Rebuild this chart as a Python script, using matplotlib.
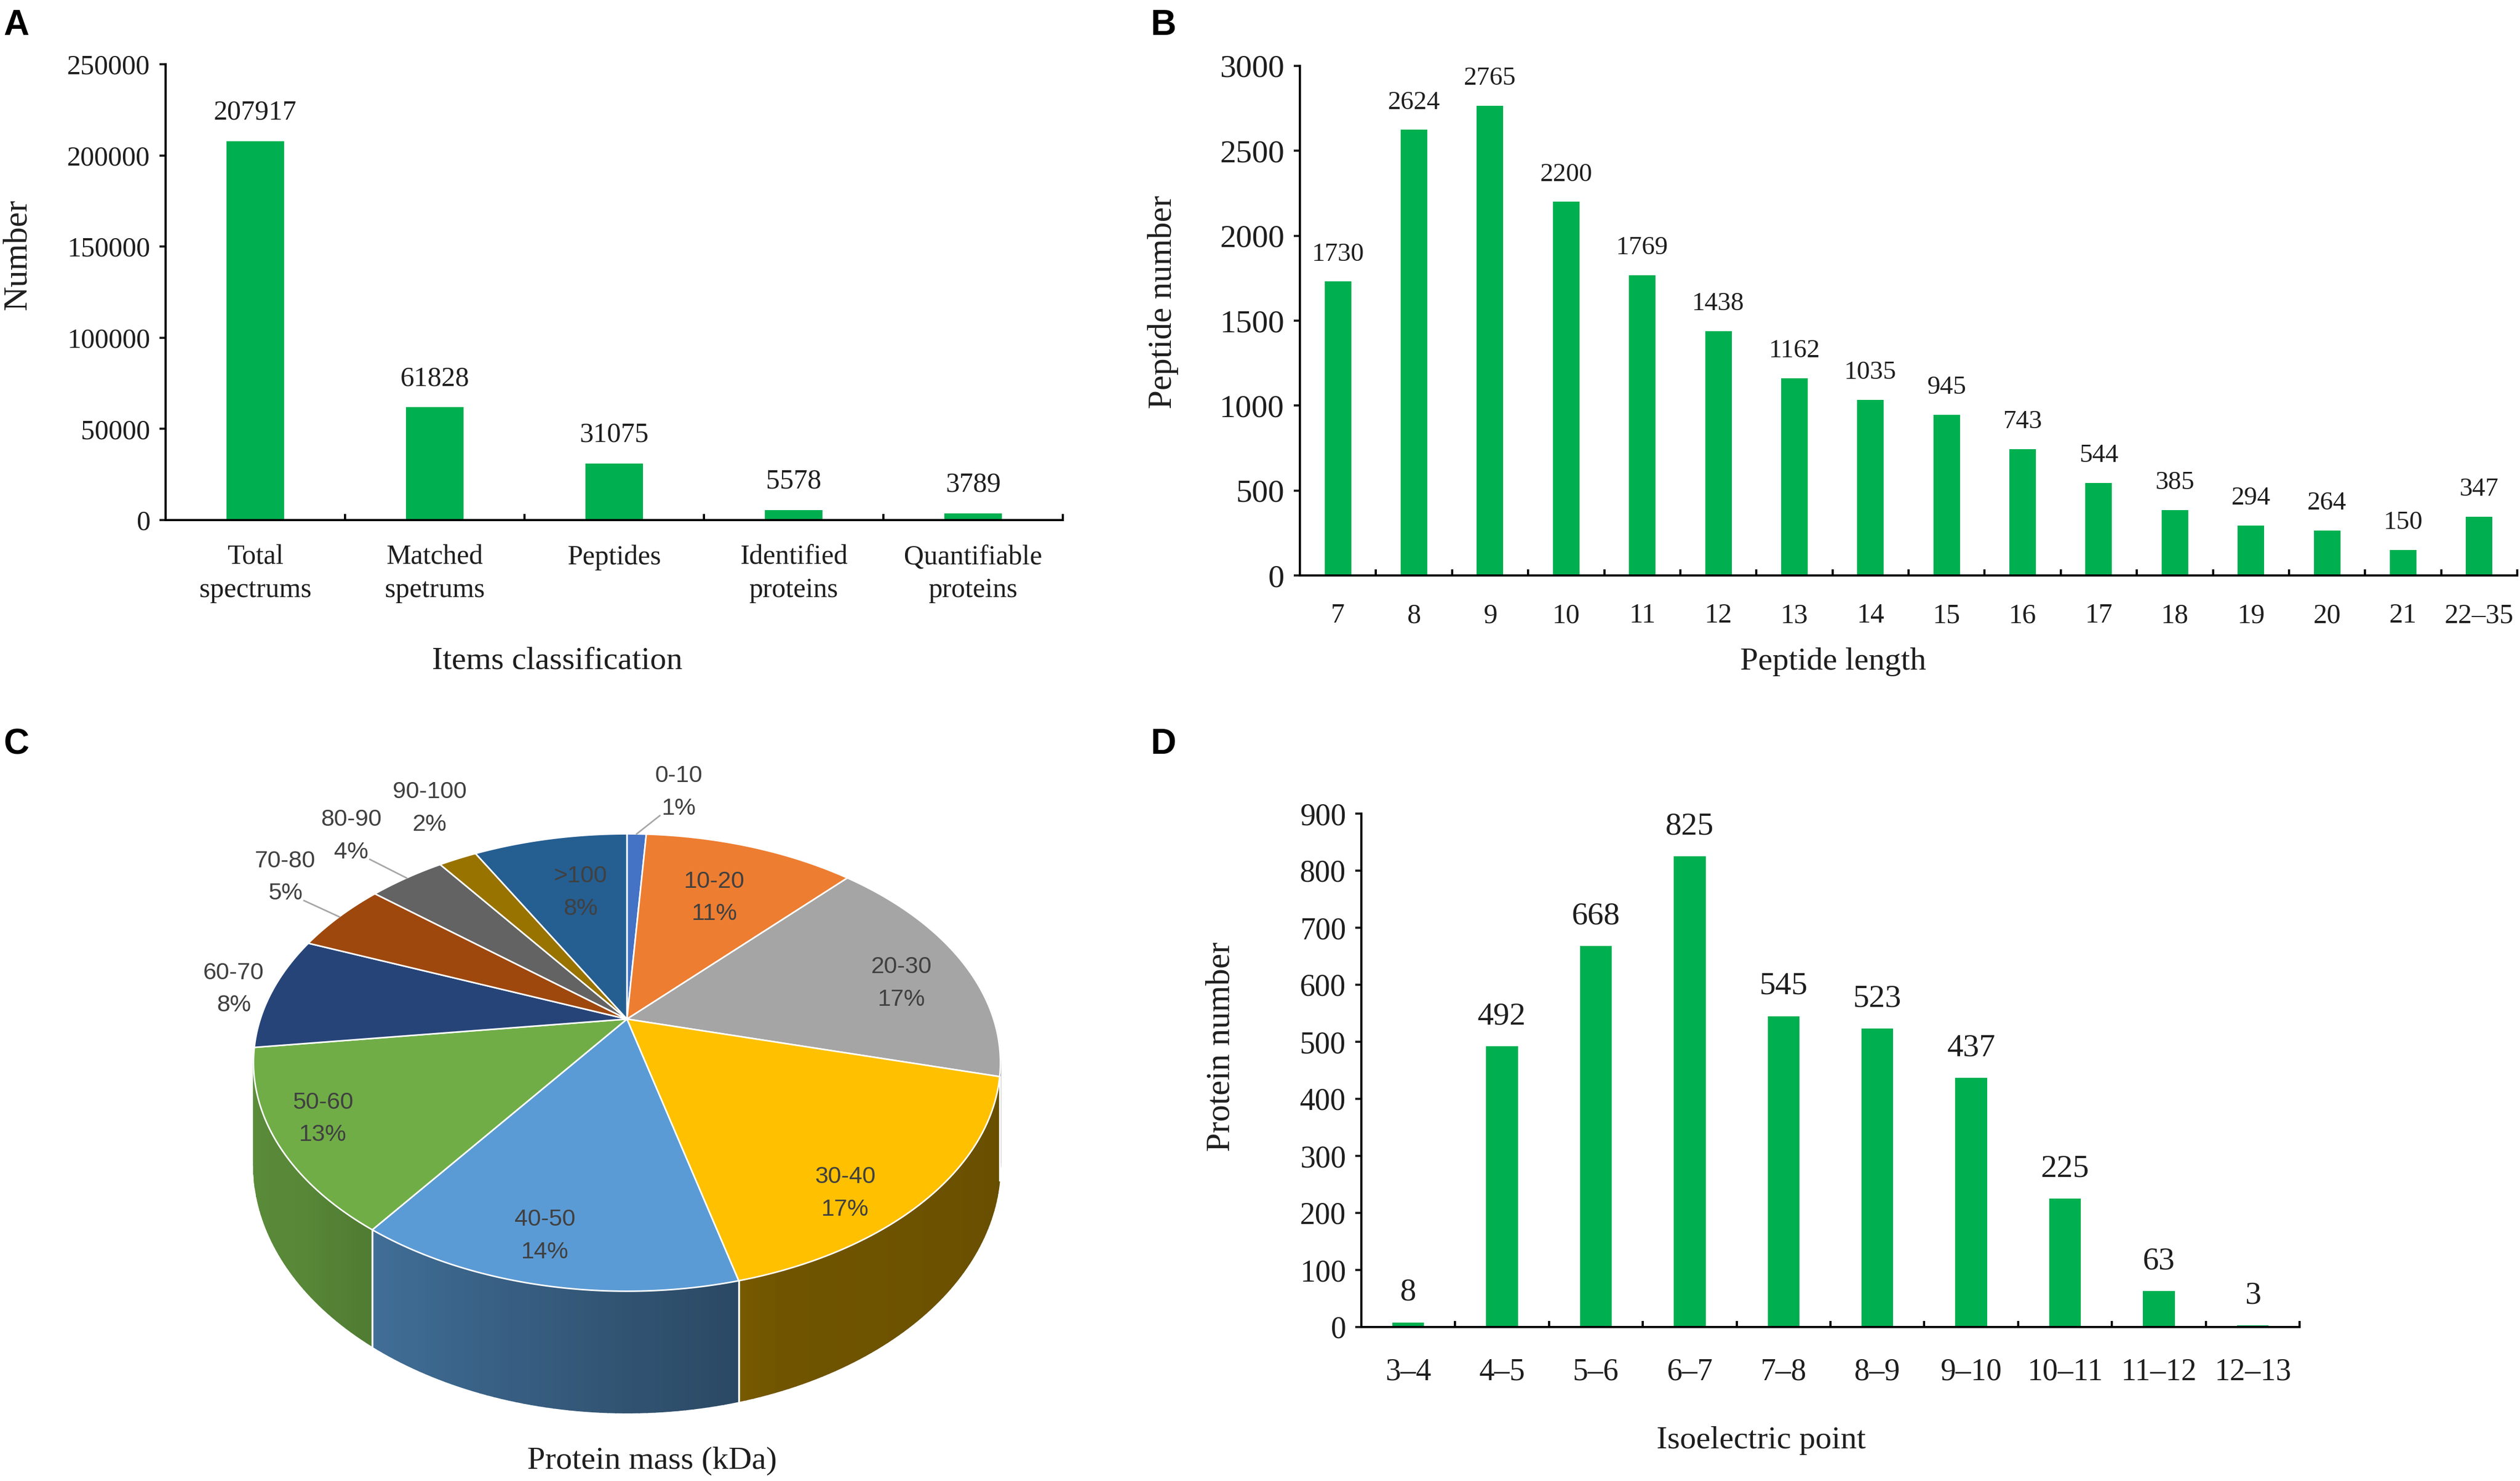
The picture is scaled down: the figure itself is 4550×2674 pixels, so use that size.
import numpy as np
import matplotlib
matplotlib.use("Agg")
import matplotlib.pyplot as plt
from matplotlib.patches import Polygon
from matplotlib.colors import to_rgb

# ---- data ----
a_cats = ["Total\nspectrums", "Matched\nspetrums", "Peptides", "Identified\nproteins", "Quantifiable\nproteins"]
a_vals = [207917, 61828, 31075, 5578, 3789]

b_cats = ["7", "8", "9", "10", "11", "12", "13", "14", "15", "16", "17", "18", "19", "20", "21", "22\u201335"]
b_vals = [1730, 2624, 2765, 2200, 1769, 1438, 1162, 1035, 945, 743, 544, 385, 294, 264, 150, 347]

d_cats = ["3\u20134", "4\u20135", "5\u20136", "6\u20137", "7\u20138", "8\u20139", "9\u201310", "10\u201311", "11\u201312", "12\u201313"]
d_vals = [8, 492, 668, 825, 545, 523, 437, 225, 63, 3]

pie_names = ["0-10", "10-20", "20-30", "30-40", "40-50", "50-60", "60-70", "70-80", "80-90", "90-100", ">100"]
pie_pct = [1, 11, 17, 17, 14, 13, 8, 5, 4, 2, 8]
pie_colors = ["#4472C4", "#ED7D31", "#A5A5A5", "#FFC000", "#5B9BD5", "#70AD47",
              "#264478", "#9E480E", "#636363", "#997300", "#255E91"]

plt.rcParams['font.family'] = ['Liberation Serif', 'DejaVu Serif']
plt.rcParams['axes.linewidth'] = 1.4

W, H = 4550, 2674
fig = plt.figure(figsize=(W / 200, H / 200), dpi=200)
TXT = "#1e1e1e"
GREEN = "#00B050"


def px_axes(x0, y0, x1, y1):
    return fig.add_axes([x0 / W, 1 - y1 / H, (x1 - x0) / W, (y1 - y0) / H])


def ftext(x, y, s, **kw):
    return fig.text(x / W, 1 - y / H, s, **kw)


def bar_panel(box, cats, vals, ymax, ystep, bw, ytick_fs, xtick_fs, val_fs, xpad):
    ax = px_axes(*box)
    x = np.arange(len(cats))
    ax.bar(x, vals, width=bw, color=GREEN, zorder=2)
    ax.set_xlim(-0.5, len(cats) - 0.5)
    ax.set_ylim(0, ymax)
    ax.set_yticks(np.arange(0, ymax + 1, ystep))
    ax.set_xticks(x)
    ax.set_xticklabels(cats, linespacing=1.35)
    ax.set_xticks(np.arange(0.5, len(cats)), minor=True)
    ax.tick_params(axis='x', which='major', length=0, pad=xpad, labelsize=xtick_fs, colors=TXT)
    ax.tick_params(axis='x', which='minor', direction='in', length=4, width=1.4)
    ax.tick_params(axis='y', direction='out', length=4, width=1.4, pad=6, labelsize=ytick_fs, colors=TXT)
    for s in ("top", "right"):
        ax.spines[s].set_visible(False)
    for xi, v in zip(x, vals):
        ax.annotate(str(v), (xi, v), xytext=(0, 10), textcoords='offset points',
                    ha='center', va='bottom', fontsize=val_fs, color=TXT)
    return ax


# ---- A ----
bar_panel((299, 116, 1919, 939), a_cats, a_vals, 250000, 50000, 0.32, 18, 18, 18, 16)
ftext(1006, 1193, "Items classification", ha='center', va='center', fontsize=21, color=TXT)
ftext(32, 460, "Number", ha='center', va='center', rotation=90, fontsize=22, color=TXT)

# ---- B ----
bar_panel((2347, 119, 4545, 1039), b_cats, b_vals, 3000, 500, 0.35, 21, 18, 17, 18)
ftext(3310, 1195, "Peptide length", ha='center', va='center', fontsize=21, color=TXT)
ftext(2100, 545, "Peptide number", ha='center', va='center', rotation=90, fontsize=22, color=TXT)

# ---- D ----
bar_panel((2458, 1469, 4152, 2396), d_cats, d_vals, 900, 100, 0.34, 20, 20, 21, 20)
ftext(3180, 2601, "Isoelectric point", ha='center', va='center', fontsize=21, color=TXT)
ftext(2205, 1890, "Protein number", ha='center', va='center', rotation=90, fontsize=22, color=TXT)

# ---- C : 3D-looking pie ----
axc = px_axes(0, 1250, 2000, 2674)
axc.set_xlim(0, 2000)
axc.set_ylim(2674, 1250)
axc.axis('off')

cx, cy, R, KR, P, TH = 1132, 1840, 662, 398, 0.19, 178


def proj(theta, r=1.0):
    t = np.radians(theta)
    u, v = r * np.sin(t), -r * np.cos(t)
    s = 1.0 / (1 - P * v)
    return cx + R * u * s, cy + KR * v * s, s


total = float(sum(pie_pct))
edges = np.concatenate([[0], np.cumsum(pie_pct)]) / total * 360.0

# side wall, drawn back to front (only the part facing the viewer)
quads = []
for i in range(len(pie_pct)):
    a0, a1 = max(edges[i], 70), min(edges[i + 1], 290)
    if a1 <= a0:
        continue
    n = max(2, int(np.ceil((a1 - a0) / 1.0)))
    ts = np.linspace(a0, a1, n + 1)
    rgb = np.array(to_rgb(pie_colors[i]))
    for t0, t1 in zip(ts[:-1], ts[1:]):
        x0, y0, s0 = proj(t0)
        x1, y1, s1 = proj(t1)
        tm = 0.5 * (t0 + t1)
        f = np.interp(tm, [60, 160, 230, 300], [0.38, 0.44, 0.78, 0.86])
        col = np.clip(rgb * f, 0, 1)
        quads.append((-np.cos(np.radians(tm)),
                      [(x0, y0), (x1, y1), (x1, y1 + TH * s1), (x0, y0 + TH * s0)], col))
quads.sort(key=lambda q: q[0])
for _, pts, col in quads:
    axc.add_patch(Polygon(pts, closed=True, facecolor=col, edgecolor=col, lw=0.6, zorder=1))

for a in edges[:-1]:
    if 100 < a < 255:
        x0, y0, s0 = proj(a)
        axc.plot([x0, x0], [y0, y0 + TH * s0], color='white', lw=1.2, zorder=2)

# top faces
for i in range(len(pie_pct)):
    ts = np.linspace(edges[i], edges[i + 1], 60)
    pts = [(cx, cy)] + [proj(t)[:2] for t in ts]
    axc.add_patch(Polygon(pts, closed=True, facecolor=pie_colors[i], edgecolor='white',
                          lw=1.0, joinstyle='round', zorder=3))

# labels
lab_r = [1.29, 0.67, 0.79, 0.86, 0.85, 0.87, 1.11, 1.29, 1.33, 1.34, 0.66]
lab_dt = [6, 0, 4, 8, 2, 2, 0, 4, 1, 3, 2]
leader = [True, False, False, False, False, False, False, True, True, False, False]
LAB = "#404040"
for i, (name, pct) in enumerate(zip(pie_names, pie_pct)):
    mid = 0.5 * (edges[i] + edges[i + 1])
    lx, ly, _ = proj(mid + lab_dt[i], lab_r[i])
    axc.text(lx, ly, f"{name}\n{pct}%", ha='center', va='center', fontsize=15.5,
             linespacing=1.6, color=LAB, zorder=5,
             family=['Liberation Sans', 'DejaVu Sans'])
    if leader[i]:
        ex, ey, _ = proj(mid, 1.0)
        sgn = 1 if ex > lx else -1
        axc.plot([lx + sgn * 34, ex], [ly + 42, ey], color='#A6A6A6', lw=1.0, zorder=4)

ftext(1177, 2638, "Protein mass (kDa)", ha='center', va='center', fontsize=21, color=TXT)

# ---- panel letters ----
for lx, ly, s in [(6, 16, "A"), (2078, 16, "B"), (6, 1314, "C"), (2078, 1314, "D")]:
    ftext(lx, ly, s, ha='left', va='top', fontsize=23, fontweight='bold',
          family=['Liberation Sans', 'DejaVu Sans'], color='black')

fig.savefig("out.png", dpi=200, facecolor='white')
